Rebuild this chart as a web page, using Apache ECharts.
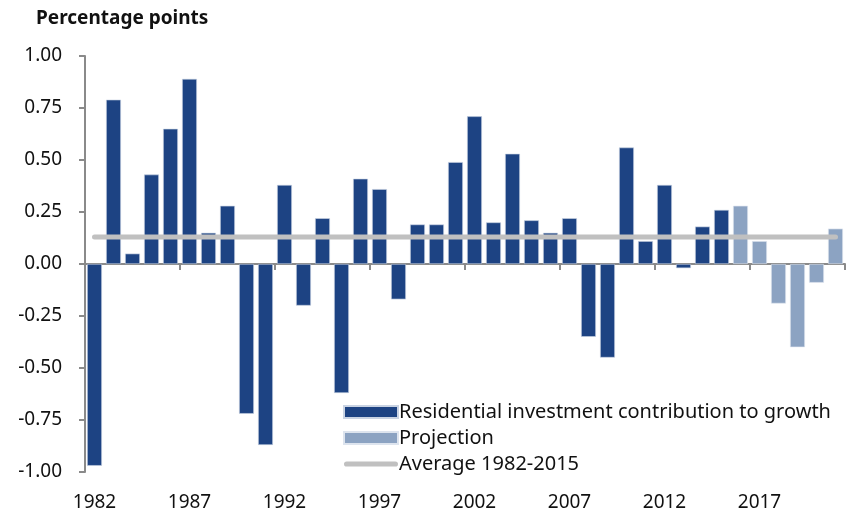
<!DOCTYPE html>
<html>
<head>
<meta charset="utf-8">
<script src="https://cdn.jsdelivr.net/npm/echarts@6/dist/echarts.min.js"></script>
<style>
  html, body { margin: 0; padding: 0; background: #fff; }
  #chart { width: 846px; height: 517px; }
</style>
</head>
<body>
<div id="chart"></div>
<script>
// years on the x axis, 1982-2021
const years = ['1982', '1983', '1984', '1985', '1986', '1987', '1988', '1989', '1990', '1991',
  '1992', '1993', '1994', '1995', '1996', '1997', '1998', '1999', '2000', '2001',
  '2002', '2003', '2004', '2005', '2006', '2007', '2008', '2009', '2010', '2011',
  '2012', '2013', '2014', '2015', '2016', '2017', '2018', '2019', '2020', '2021'];

// residential investment contribution (actual), '-' where projected
const actual = [-0.97, 0.79, 0.05, 0.43, 0.65, 0.89, 0.15, 0.28, -0.72, -0.87,
  0.38, -0.20, 0.22, -0.62, 0.41, 0.36, -0.17, 0.19, 0.19, 0.49,
  0.71, 0.20, 0.53, 0.21, 0.15, 0.22, -0.35, -0.45, 0.56, 0.11,
  0.38, -0.02, 0.18, 0.26, '-', '-', '-', '-', '-', '-'];

// projection values
const projection = ['-', '-', '-', '-', '-', '-', '-', '-', '-', '-',
  '-', '-', '-', '-', '-', '-', '-', '-', '-', '-',
  '-', '-', '-', '-', '-', '-', '-', '-', '-', '-',
  '-', '-', '-', '-', 0.28, 0.11, -0.19, -0.40, -0.09, 0.17];

// average 1982-2015, drawn across all years
const average = [0.13, 0.13, 0.13, 0.13, 0.13, 0.13, 0.13, 0.13, 0.13, 0.13,
  0.13, 0.13, 0.13, 0.13, 0.13, 0.13, 0.13, 0.13, 0.13, 0.13,
  0.13, 0.13, 0.13, 0.13, 0.13, 0.13, 0.13, 0.13, 0.13, 0.13,
  0.13, 0.13, 0.13, 0.13, 0.13, 0.13, 0.13, 0.13, 0.13, 0.13];

const font = 'Noto Sans';
const chart = echarts.init(document.getElementById('chart'));

// thick rounded bar used as the legend icon of the average line
const lineIcon = 'path://M2.5,0 L49.5,0 A2.5,2.5 0 0 1 49.5,5 L2.5,5 A2.5,2.5 0 0 1 2.5,0 Z';

const option = {
  animation: false,
  title: {
    text: 'Percentage points',
    left: 31,
    top: 4,
    textStyle: { fontFamily: font, fontSize: 19, fontWeight: 'bold', color: '#111' }
  },
  legend: {
    orient: 'vertical',
    left: 338,
    top: 397,
    itemWidth: 54,
    itemHeight: 12,
    itemGap: 6,
    textStyle: { fontFamily: font, fontSize: 20, color: '#111', padding: [0, 0, 0, -4] },
    data: [
      { name: 'Residential investment contribution to growth', icon: 'rect' },
      { name: 'Projection', icon: 'rect' },
      { name: 'Average 1982-2015', icon: lineIcon }
    ]
  },
  grid: { left: 85, right: 1, top: 56, bottom: 45 },
  xAxis: [
    {
      type: 'category',
      data: years,
      axisLine: { onZero: true, lineStyle: { color: '#8a8a8a', width: 2 } },
      axisTick: { show: true, interval: 4, length: 6, lineStyle: { color: '#8a8a8a', width: 2 } },
      axisLabel: { show: false }
    },
    {
      type: 'category',
      data: years,
      position: 'bottom',
      axisLine: { show: false },
      axisTick: { show: false },
      axisLabel: {
        interval: 4,
        margin: 21,
        fontFamily: font,
        fontSize: 19,
        color: '#111'
      }
    }
  ],
  yAxis: {
    type: 'value',
    min: -1,
    max: 1,
    interval: 0.25,
    splitLine: { show: false },
    axisLine: { show: true, lineStyle: { color: '#8a8a8a', width: 2 } },
    axisTick: { show: true, length: 6, lineStyle: { color: '#8a8a8a', width: 2 } },
    axisLabel: {
      margin: 23,
      fontFamily: font,
      fontSize: 19,
      color: '#111',
      formatter: v => v.toFixed(2)
    }
  },
  series: [
    {
      name: 'Residential investment contribution to growth',
      type: 'bar',
      data: actual,
      barWidth: '78%',
      barGap: '-100%',
      itemStyle: { color: '#1d4383', borderColor: '#c9d3e3', borderWidth: 0.6 }
    },
    {
      name: 'Projection',
      type: 'bar',
      data: projection,
      barWidth: '78%',
      barGap: '-100%',
      itemStyle: { color: '#8ca3c2', borderColor: '#dde4ee', borderWidth: 0.6 }
    },
    {
      name: 'Average 1982-2015',
      type: 'line',
      data: average,
      symbol: 'none',
      z: 5,
      lineStyle: { color: '#c0c0c0', width: 5, cap: 'round' },
      itemStyle: { color: '#c0c0c0' }
    }
  ]
};

chart.setOption(option);
</script>
</body>
</html>
